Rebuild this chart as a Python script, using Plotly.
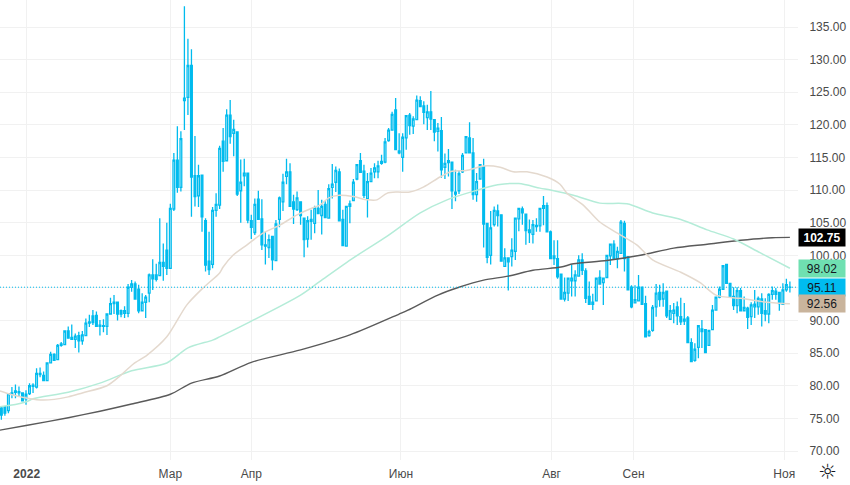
import plotly.graph_objects as go

first_bar = -7
opens = [
 76.6,76.8,76.2,78.9,79.2,79.1,78.9,78.0,78.8,80.1,
 79.8,81.9,81.6,80.8,83.5,84.8,84.0,86.2,86.3,88.4,
 87.4,87.1,87.7,86.9,87.7,89.6,90.7,90.8,89.3,89.2,
 89.1,91.0,92.8,92.8,91.5,91.1,91.1,95.1,95.6,94.8,
 91.5,92.8,94.2,97.0,97.0,96.9,98.9,100.8,98.0,107.1,
 114.6,110.4,123.7,124.2,129.1,112.2,109.1,112.3,105.3,99.1,
 98.6,106.9,107.7,117.5,114.5,121.5,118.7,118.9,109.9,112.2,
 112.6,105.3,103.5,108.6,105.6,101.6,101.2,102.9,99.2,105.5,
 108.2,112.1,112.8,108.2,107.0,108.2,105.7,102.5,105.5,104.9,
 107.2,106.1,107.8,105.7,110.4,111.2,112.8,105.5,101.4,107.5,
 108.4,111.7,114.5,112.9,108.7,111.3,112.8,112.8,114.1,114.3,
 117.6,119.2,122.3,116.0,115.0,118.0,121.5,119.8,120.8,123.7,
 122.9,121.1,122.0,120.8,119.0,119.1,113.5,114.2,114.3,109.7,
 109.9,112.8,115.7,118.0,115.7,109.3,111.7,113.6,104.9,100.0,
 104.7,106.8,106.2,98.3,99.6,99.8,100.6,105.6,107.1,106.3,
 103.9,103.2,104.4,104.5,107.2,107.6,103.6,99.9,99.5,97.1,
 93.3,94.2,96.1,96.1,96.8,99.3,97.6,93.7,92.5,93.0,
 96.6,95.8,96.6,99.9,101.7,99.5,100.3,104.9,99.8,95.1,
 92.7,93.0,95.1,92.6,87.7,88.5,92.1,94.3,93.3,94.5,
 90.2,91.1,92.1,90.6,89.9,90.4,86.6,83.9,85.9,88.7,
 88.6,86.2,88.6,91.6,93.6,94.8,98.6,95.7,93.7,92.3,
 94.6,91.5,91.9,90.6,92.1,92.1,93.3,91.5,91.0,94.0,
 94.5,94.3,92.5,94.7,95.1]
highs = [
 76.9,76.9,78.9,79.8,80.2,79.9,79.0,79.3,80.4,80.4,
 82.7,82.8,82.2,83.6,85.2,85.0,86.4,86.7,88.5,89.1,
 89.4,88.0,88.3,88.4,90.3,90.9,91.6,91.4,90.1,90.2,
 91.1,93.5,93.9,92.8,91.7,92.2,95.6,96.2,96.0,95.5,
 94.2,93.9,97.2,99.4,98.7,105.7,101.8,105.0,107.9,115.7,
 119.8,119.0,138.2,133.2,131.6,118.3,113.9,112.4,105.7,103.6,
 107.4,109.5,116.8,119.5,122.4,123.8,120.8,119.0,114.7,114.8,
 112.6,106.2,108.7,109.9,108.6,103.6,103.2,102.9,105.4,109.0,
 112.5,114.8,114.1,109.3,109.8,108.3,105.8,106.0,107.0,107.6,
 110.0,108.5,108.3,110.9,114.0,113.6,113.3,107.0,107.5,108.4,
 111.7,113.9,115.7,113.9,112.6,113.4,114.1,114.5,115.4,118.0,
 119.5,122.0,124.1,118.7,118.7,121.5,121.8,121.3,124.5,124.4,
 123.6,123.1,125.2,120.8,120.3,121.2,115.6,116.3,114.4,113.1,
 113.0,115.7,118.2,120.4,118.0,112.6,114.0,114.8,104.9,106.8,
 107.5,107.8,106.2,101.1,99.7,102.6,105.7,107.3,107.5,106.4,
 105.5,105.4,105.7,107.2,109.1,108.1,103.8,102.3,102.3,97.2,
 96.6,96.6,98.5,97.7,100.0,100.3,98.0,96.0,94.1,96.5,
 97.7,96.6,100.0,101.8,102.3,101.3,105.4,105.3,99.9,95.4,
 95.4,97.0,95.1,93.8,88.6,92.4,95.6,95.5,95.7,94.5,
 92.4,92.7,92.9,93.5,92.7,90.7,87.3,86.5,89.3,90.1,
 88.6,88.6,92.4,93.7,95.2,98.5,98.6,95.7,95.1,95.1,
 95.0,93.7,92.1,92.8,94.7,93.7,94.2,93.4,94.2,95.2,
 95.0,94.3,95.7,96.4,96.0]
lows = [
 74.8,75.4,75.8,78.1,78.1,78.3,77.6,77.1,78.6,78.9,
 79.6,81.3,80.7,80.8,83.4,83.8,84.0,86.0,86.2,87.2,
 87.0,85.8,85.1,86.3,87.7,89.0,89.3,89.0,87.7,88.2,
 87.8,91.0,91.0,90.0,90.5,90.4,90.5,94.4,93.2,91.1,
 91.5,90.4,92.8,94.7,96.0,96.8,96.1,97.0,98.0,106.8,
 109.6,109.8,119.2,121.5,105.9,107.5,107.4,103.6,97.5,97.0,
 98.0,105.9,107.1,112.8,114.5,117.1,115.2,109.1,105.0,110.6,
 104.9,102.5,103.1,105.4,100.8,98.6,99.6,97.7,99.1,104.3,
 106.8,110.9,107.5,104.8,106.8,104.7,99.7,101.2,102.4,103.4,
 106.4,103.2,105.8,105.6,108.7,109.7,105.2,101.5,101.4,104.9,
 108.3,111.5,112.6,108.8,105.8,111.2,111.8,111.8,113.9,114.1,
 117.4,119.2,116.2,115.5,112.8,116.2,118.5,118.6,120.8,122.7,
 120.1,119.2,119.2,117.5,115.9,111.9,111.7,112.1,107.1,108.3,
 109.4,112.6,115.7,115.7,108.5,108.2,111.6,101.2,98.8,98.6,
 104.4,104.4,99.1,98.3,94.6,98.3,99.3,103.7,104.7,101.6,
 101.9,101.8,103.6,103.6,104.6,103.5,99.5,98.5,96.4,93.3,
 92.9,93.0,93.7,93.7,96.7,97.0,92.7,92.4,91.6,92.9,
 95.6,92.4,96.6,98.5,99.3,98.0,100.3,97.5,94.7,91.9,
 92.6,92.9,92.4,87.5,87.5,88.3,90.6,92.1,92.1,90.4,
 90.1,89.6,89.3,89.3,89.3,86.5,83.7,83.7,84.2,85.8,
 85.1,86.2,88.6,91.6,93.4,94.8,95.7,93.6,91.6,91.1,
 91.4,91.4,88.7,89.3,90.4,90.9,89.1,89.9,89.6,93.2,
 93.2,91.5,92.4,94.4,94.3]
closes = [
 75.5,75.8,78.8,78.7,79.0,78.9,77.7,78.7,80.0,79.9,
 81.9,81.7,80.8,83.5,84.8,83.9,86.2,86.4,88.4,87.3,
 87.1,87.6,86.9,87.8,89.6,89.8,89.7,89.1,89.1,89.1,
 91.0,92.6,92.6,91.0,91.0,91.5,95.1,95.6,93.3,91.5,
 92.8,93.6,97.0,96.4,96.3,98.9,98.3,98.0,107.2,114.6,
 110.4,117.9,124.1,129.1,112.0,109.0,112.2,105.9,98.5,97.8,
 106.9,107.8,116.4,114.4,121.5,118.2,119.3,109.4,111.2,112.6,
 105.4,104.3,107.8,105.5,101.6,101.4,102.4,99.3,104.8,108.8,
 111.2,112.8,107.5,107.1,108.8,106.1,102.4,105.3,105.2,107.3,
 106.4,107.5,105.8,110.2,110.9,113.0,105.3,101.5,107.5,107.9,
 111.2,113.9,112.7,109.2,111.3,112.6,113.4,113.7,114.4,117.4,
 119.2,121.6,116.2,115.7,118.1,121.4,119.9,120.9,123.8,122.8,
 121.9,122.0,120.9,118.9,119.5,113.1,114.1,114.5,109.9,109.4,
 112.5,115.3,118.2,115.7,109.3,111.3,113.9,104.8,99.7,104.2,
 106.9,106.1,99.1,99.6,99.0,100.8,105.7,107.2,106.5,103.8,
 103.5,104.7,104.6,107.2,107.6,103.6,99.5,99.5,96.7,93.3,
 94.3,96.5,96.5,97.0,99.3,97.7,93.4,92.5,92.8,96.5,
 95.6,96.5,100.0,101.7,99.5,100.6,105.1,99.5,94.7,92.1,
 93.2,95.1,92.5,87.5,88.3,92.0,94.2,93.2,94.3,90.7,
 91.5,91.6,90.7,89.8,90.2,86.6,83.7,85.6,89.2,88.3,
 85.1,88.5,91.6,93.6,94.8,98.4,95.7,93.7,92.3,94.6,
 91.5,92.0,90.5,92.4,92.5,93.4,91.1,91.0,94.0,94.6,
 94.0,92.6,94.7,95.5,95.11]
bars = list(range(first_bar, first_bar + len(opens)))

ma_dark_x = [-7.4,0,12,21,30,41,47,55,64,78,92,106,108.5,117,123,130,137,144,152,155.5,165,174.5,184,193.5,203,212,217]
ma_dark_y = [73.2,73.9,75.1,76.1,77.2,78.7,80.4,81.5,83.6,85.5,87.8,91,91.6,93.9,95.1,96.2,96.8,97.7,98.2,98.7,99.2,100,101.1,101.7,102.3,102.7,102.75]

ma_green_x = [-7.4,-4.5,0.3,2,12,21,30,40,46,53,55,63.6,78,83.5,93,102.5,112,119.6,127,134,140,146,149,155.5,163,170.7,178,186,193.5,201,208.5,217]
ma_green_y = [76.8,77,77.6,78,79,80.4,82.3,83.5,85.8,87,87.5,89.8,93.9,96,99.6,102.9,106.5,108.5,109.8,110.8,111,110.3,110,109.2,108,107.9,106.5,105.5,103.9,102.5,100.4,98.02]

ma_tan_x = [-7.4,-4.5,0.3,5,12,16,23,26.7,30.4,34.4,40,45.7,50.3,55,56,58.8,62.8,67.3,72,77,81.5,83.5,86,89,93,97,99.7,102.5,105.4,109,113,117.6,121,125,130,134.7,138.4,142.3,148,151.7,153.7,158.3,163,168,173.5,178,186,191.5,196,203,210.5,217]
ma_tan_y = [79.2,78.7,78.1,77.8,78.3,78.9,80,81.5,83.3,84.7,87.5,92.4,95,97.3,98.2,100,101.6,103.4,104.6,106.2,107.3,107.7,108.8,109.2,109,108.5,108.5,109.5,109.7,109.7,110.5,112,112.9,113,113.7,113.5,112.8,112.8,112,110.9,109.5,107.7,105.1,103.4,101.6,99.3,97.4,95.8,93.9,93.4,92.8,92.56]

month_ticks = [0.2, 41, 64, 106.5, 149.3, 172.6, 215.4]
month_labels = ["<b>2022</b>", "Мар", "Апр", "Июн", "Авг", "Сен", "Ноя"]
price_ticks = [70, 75, 80, 85, 90, 95, 100, 105, 110, 115, 120, 125, 130, 135]
price_labels = ["70.00", "75.00", "80.00", "85.00", "90.00", "", "100.00", "105.00", "110.00", "115.00", "120.00", "125.00", "130.00", "135.00"]
last_prices = [102.75, 98.02, 95.11, 92.56]
last_fills = ["#000000", "#6fe0b1", "#00bcf0", "#c9b49c"]
last_texts = ["#ffffff", "#131722", "#131722", "#131722"]

CANDLE = "#00bbee"
GRID = "#f1f1f1"
TEXT = "#4a4a4a"
FONT = "Liberation Sans"

fig = go.Figure()
fig.add_trace(go.Scatter(x=ma_dark_x, y=ma_dark_y, mode="lines", line=dict(color="#5a5a5a", width=1.4, shape="spline", smoothing=0.8), hoverinfo="skip"))
fig.add_trace(go.Scatter(x=ma_green_x, y=ma_green_y, mode="lines", line=dict(color="#b4ecd8", width=1.5, shape="spline", smoothing=0.8), hoverinfo="skip"))
fig.add_trace(go.Scatter(x=ma_tan_x, y=ma_tan_y, mode="lines", line=dict(color="#e4d9ce", width=1.5, shape="spline", smoothing=0.8), hoverinfo="skip"))
fig.add_trace(go.Candlestick(
    x=bars, open=opens, high=highs, low=lows, close=closes,
    increasing=dict(line=dict(color=CANDLE, width=1.3), fillcolor="#ffffff"),
    decreasing=dict(line=dict(color=CANDLE, width=1.3), fillcolor=CANDLE),
    whiskerwidth=0,
))

fig.add_shape(type="line", xref="paper", x0=0, x1=1, yref="y", y0=95.11, y1=95.11,
              line=dict(color=CANDLE, width=1, dash="1px,2px"))

for price, fill, txt in zip(last_prices, last_fills, last_texts):
    label = f"{price:.2f}"
    if fill == "#000000":
        label = f"<b>{label}</b>"
    fig.add_annotation(xref="paper", x=1, xanchor="left", xshift=0, yref="y", y=price,
                       text=label, showarrow=False, bgcolor=fill, width=46, height=17,
                       borderpad=0, font=dict(color=txt, size=12, family=FONT), align="center")

fig.add_annotation(xref="paper", x=1, xanchor="center", xshift=29, yref="paper", y=0, yshift=-12,
                   yanchor="middle", text="☼", showarrow=False,
                   font=dict(size=21, color="#131722", family="DejaVu Sans"))

fig.update_layout(
    width=850, height=485, autosize=False,
    margin=dict(l=0, r=52, t=0, b=25),
    paper_bgcolor="#ffffff", plot_bgcolor="#ffffff",
    showlegend=False, dragmode=False,
    font=dict(family=FONT, size=12, color=TEXT),
    xaxis=dict(range=[-7.386, 219.3], tickmode="array", tickvals=month_ticks, ticktext=month_labels,
               showgrid=True, gridcolor=GRID, gridwidth=1, zeroline=False, showline=False,
               ticks="outside", ticklen=3, tickcolor="#ffffff", rangeslider=dict(visible=False),
               fixedrange=True),
    yaxis=dict(side="right", range=[68.62, 139.14], tickmode="array", tickvals=price_ticks, ticktext=price_labels,
               showgrid=True, gridcolor=GRID, gridwidth=1, zeroline=False, showline=False,
               ticks="outside", ticklen=8, tickcolor="#ffffff", fixedrange=True),
)
fig.write_html("out.html", config={"displayModeBar": False},
               post_script="document.body.style.margin='0';document.body.style.overflow='hidden';")
